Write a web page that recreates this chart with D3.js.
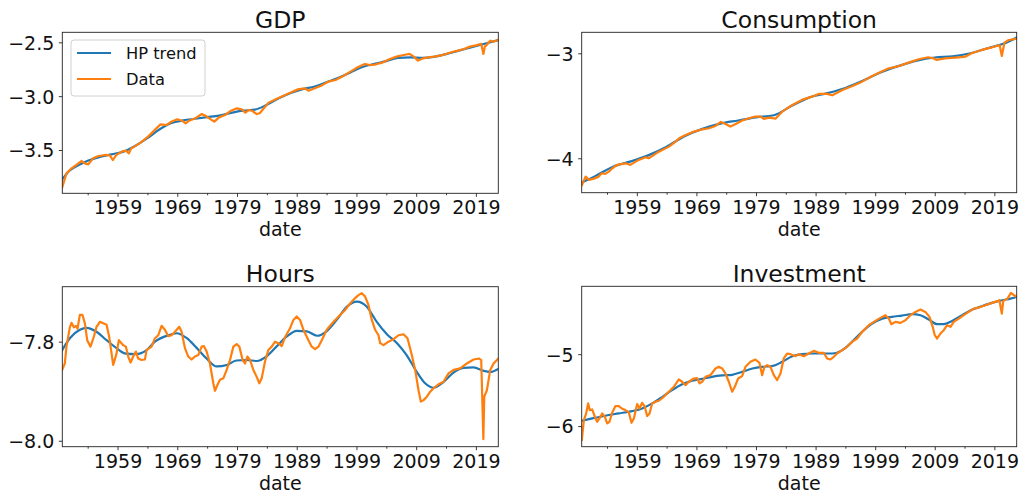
<!DOCTYPE html>
<html>
<head>
<meta charset="utf-8">
<script src="https://cdn.jsdelivr.net/npm/d3@7"></script>
<style>
  html, body { margin: 0; padding: 0; background: #fff; }
  svg { display: block; font-family: "DejaVu Sans", sans-serif; }
</style>
</head>
<body>
<svg id="chart" width="1023" height="495"></svg>
<script>
// ---- Series: [year, log level] ----
const gdpData = [
  [1949.75,-3.845],[1950.45,-3.717],[1951.3,-3.670],[1952.1,-3.639],[1953.0,-3.602],[1953.5,-3.624],
  [1954.1,-3.633],[1954.9,-3.577],[1955.8,-3.556],[1956.9,-3.546],[1957.7,-3.550],[1958.2,-3.593],
  [1958.8,-3.546],[1959.7,-3.515],[1960.4,-3.506],[1960.9,-3.531],[1961.3,-3.485],[1962.7,-3.438],
  [1964.1,-3.376],[1965.5,-3.299],[1966.2,-3.262],[1967.2,-3.268],[1968.0,-3.237],[1969.0,-3.215],
  [1969.8,-3.228],[1970.4,-3.252],[1971.0,-3.228],[1972.0,-3.206],[1973.1,-3.166],[1973.8,-3.184],
  [1974.6,-3.215],[1975.2,-3.237],[1976.0,-3.197],[1977.0,-3.175],[1978.0,-3.135],[1979.0,-3.113],
  [1979.8,-3.122],[1980.4,-3.153],[1981.0,-3.128],[1981.6,-3.138],[1982.3,-3.166],[1982.8,-3.159],
  [1983.5,-3.113],[1984.3,-3.060],[1985.5,-3.029],[1986.7,-2.998],[1988.0,-2.967],[1989.2,-2.937],
  [1990.3,-2.927],[1991.0,-2.949],[1992.0,-2.927],[1993.0,-2.906],[1994.3,-2.865],[1995.5,-2.850],
  [1996.8,-2.813],[1998.0,-2.772],[1999.2,-2.732],[2000.4,-2.701],[2001.3,-2.711],[2002.3,-2.704],
  [2003.3,-2.689],[2004.5,-2.658],[2005.7,-2.633],[2006.9,-2.618],[2007.9,-2.608],[2008.6,-2.633],
  [2009.3,-2.670],[2010.0,-2.652],[2011.0,-2.639],[2012.0,-2.633],[2013.0,-2.624],[2014.0,-2.608],
  [2015.0,-2.590],[2016.0,-2.577],[2017.0,-2.562],[2018.0,-2.540],[2019.0,-2.528],[2019.9,-2.515],
  [2020.25,-2.608],[2020.5,-2.540],[2020.8,-2.525],[2021.4,-2.485],[2021.9,-2.494],[2022.3,-2.485],
  [2022.75,-2.478]
];
const gdpTrend = [
  [1949.75,-3.77],[1951,-3.69],[1952.5,-3.64],[1954,-3.60],[1956,-3.565],[1958,-3.54],[1960,-3.515],
  [1962,-3.46],[1964,-3.39],[1966,-3.31],[1968,-3.25],[1970,-3.225],[1972,-3.21],[1974,-3.195],
  [1976,-3.18],[1978,-3.155],[1980,-3.135],[1982,-3.125],[1984,-3.08],[1986,-3.02],[1988,-2.97],
  [1990,-2.935],[1992,-2.91],[1994,-2.87],[1996,-2.83],[1998,-2.78],[2000,-2.73],[2002,-2.70],
  [2004,-2.675],[2006,-2.645],[2008,-2.64],[2010,-2.645],[2012,-2.635],[2014,-2.61],[2016,-2.58],
  [2018,-2.55],[2020,-2.52],[2022.75,-2.48]
];

const consData = [
  [1949.8,-4.254],[1950.4,-4.175],[1951.0,-4.206],[1951.8,-4.194],[1952.6,-4.175],[1953.1,-4.143],
  [1953.7,-4.149],[1954.3,-4.127],[1954.9,-4.095],[1955.7,-4.063],[1957.1,-4.048],[1957.9,-4.063],
  [1959.1,-4.022],[1960.5,-3.990],[1961.0,-4.000],[1962.7,-3.937],[1964.4,-3.889],[1965.5,-3.841],
  [1966.1,-3.810],[1967.2,-3.778],[1968.6,-3.746],[1970.0,-3.724],[1971.1,-3.714],[1972.2,-3.692],
  [1973.1,-3.654],[1973.9,-3.673],[1974.7,-3.698],[1975.6,-3.673],[1976.7,-3.641],[1977.8,-3.619],
  [1978.9,-3.603],[1979.8,-3.603],[1980.3,-3.625],[1981.2,-3.613],[1982.3,-3.622],[1983.4,-3.556],
  [1985.1,-3.492],[1986.7,-3.444],[1988.4,-3.413],[1989.5,-3.387],[1990.9,-3.387],[1991.8,-3.400],
  [1993.5,-3.349],[1995.2,-3.311],[1996.8,-3.270],[1998.5,-3.216],[2000.0,-3.175],[2001.3,-3.143],
  [2003.0,-3.121],[2004.6,-3.089],[2006.3,-3.057],[2007.9,-3.038],[2008.8,-3.048],[2009.3,-3.063],
  [2010.7,-3.048],[2013.0,-3.038],[2014.1,-3.032],[2015.2,-3.000],[2016.9,-2.968],[2018.6,-2.943],
  [2019.4,-2.930],[2019.9,-2.924],[2020.25,-3.025],[2020.7,-2.898],[2021.4,-2.873],[2022.75,-2.860]
];
const consTrend = [
  [1949.8,-4.23],[1952,-4.17],[1955,-4.08],[1958,-4.03],[1961,-3.97],[1964,-3.89],[1967,-3.79],
  [1970,-3.72],[1973,-3.67],[1976,-3.64],[1979,-3.61],[1982,-3.59],[1985,-3.50],[1988,-3.42],
  [1991,-3.38],[1994,-3.33],[1997,-3.26],[2000,-3.18],[2003,-3.12],[2006,-3.07],[2009,-3.04],
  [2012,-3.03],[2015,-3.00],[2018,-2.95],[2020.5,-2.91],[2022.75,-2.85]
];

const hoursData = [
  [1949.73,-7.857],[1950.17,-7.844],[1950.45,-7.810],[1951.01,-7.771],[1951.29,-7.762],[1951.68,-7.771],
  [1952.02,-7.768],[1952.30,-7.774],[1952.69,-7.746],[1953.13,-7.746],[1953.53,-7.763],[1953.92,-7.797],
  [1954.47,-7.810],[1955.03,-7.790],[1955.48,-7.770],[1956.04,-7.760],[1956.60,-7.763],[1957.16,-7.766],
  [1957.60,-7.790],[1958.27,-7.847],[1958.83,-7.824],[1959.22,-7.797],[1959.95,-7.807],[1960.40,-7.810],
  [1960.79,-7.830],[1961.18,-7.842],[1961.63,-7.830],[1962.07,-7.820],[1962.46,-7.834],[1963.02,-7.837],
  [1963.58,-7.836],[1963.86,-7.817],[1964.70,-7.810],[1965.26,-7.793],[1965.82,-7.787],[1966.37,-7.768],
  [1966.93,-7.776],[1967.49,-7.789],[1968.05,-7.787],[1968.61,-7.780],[1969.34,-7.770],[1969.73,-7.780],
  [1970.28,-7.813],[1970.84,-7.830],[1971.40,-7.836],[1971.96,-7.830],[1972.52,-7.827],[1973.08,-7.810],
  [1973.47,-7.809],[1973.92,-7.820],[1974.47,-7.844],[1975.03,-7.884],[1975.31,-7.899],[1975.70,-7.888],
  [1976.15,-7.877],[1976.71,-7.874],[1977.27,-7.857],[1977.83,-7.837],[1978.39,-7.810],[1978.94,-7.805],
  [1979.39,-7.810],[1979.95,-7.837],[1980.34,-7.844],[1980.73,-7.830],[1981.18,-7.837],[1981.74,-7.857],
  [1982.30,-7.871],[1982.74,-7.884],[1983.13,-7.874],[1983.69,-7.840],[1984.25,-7.817],[1984.81,-7.810],
  [1985.37,-7.800],[1985.93,-7.803],[1986.49,-7.809],[1987.04,-7.791],[1987.88,-7.773],[1988.44,-7.756],
  [1989.00,-7.749],[1989.56,-7.756],[1990.12,-7.776],[1990.96,-7.797],[1991.51,-7.810],[1992.07,-7.815],
  [1992.63,-7.810],[1993.19,-7.797],[1994.03,-7.776],[1994.59,-7.768],[1995.15,-7.760],[1995.70,-7.753],
  [1996.26,-7.746],[1997.10,-7.736],[1997.94,-7.723],[1998.78,-7.712],[1999.34,-7.706],[1999.89,-7.702],
  [2000.45,-7.709],[2001.01,-7.726],[2001.57,-7.756],[2002.13,-7.776],[2002.69,-7.787],[2002.97,-7.803],
  [2003.53,-7.807],[2004.37,-7.800],[2005.20,-7.795],[2006.04,-7.787],[2006.88,-7.785],[2007.55,-7.793],
  [2008.27,-7.827],[2008.83,-7.857],[2009.39,-7.898],[2009.78,-7.921],[2010.23,-7.918],[2010.79,-7.911],
  [2011.35,-7.901],[2011.91,-7.894],[2012.74,-7.886],[2013.58,-7.881],[2014.42,-7.864],[2015.26,-7.857],
  [2016.37,-7.854],[2017.49,-7.844],[2018.61,-7.836],[2019.56,-7.834],[2019.89,-7.837],[2020.25,-7.997],
  [2020.40,-7.911],[2020.84,-7.898],[2021.40,-7.857],[2021.96,-7.844],[2022.75,-7.834]
];
const hoursTrend = [
  [1949.73,-7.817],[1951.01,-7.793],[1952.69,-7.776],[1953.8,-7.772],[1955.48,-7.780],[1957.16,-7.797],
  [1958.83,-7.813],[1960.4,-7.824],[1962.07,-7.825],[1963.86,-7.817],[1965.26,-7.800],[1967.49,-7.787],
  [1968.9,-7.783],[1970.6,-7.793],[1972.2,-7.812],[1973.9,-7.834],[1975.6,-7.850],[1977.3,-7.847],
  [1978.9,-7.838],[1980.6,-7.837],[1982.3,-7.839],[1984.0,-7.829],[1985.6,-7.810],[1987.3,-7.790],
  [1989.0,-7.778],[1990.7,-7.779],[1992.4,-7.788],[1994.0,-7.779],[1995.7,-7.756],[1997.4,-7.729],
  [1999.1,-7.719],[2000.7,-7.729],[2002.4,-7.760],[2004.1,-7.785],[2005.8,-7.803],[2007.4,-7.827],
  [2009.1,-7.861],[2010.5,-7.884],[2011.9,-7.893],[2013.6,-7.881],[2015.3,-7.862],[2016.9,-7.853],
  [2018.6,-7.852],[2020.3,-7.859],[2021.4,-7.861],[2022.75,-7.855]
];

const invData = [
  [1949.77,-6.194],[1950.11,-5.917],[1950.50,-5.824],[1950.83,-5.685],[1951.11,-5.778],[1951.51,-5.769],
  [1951.95,-5.870],[1952.34,-5.940],[1952.74,-5.894],[1953.18,-5.824],[1953.63,-5.870],[1954.02,-5.963],
  [1954.41,-5.940],[1954.86,-5.815],[1955.42,-5.722],[1955.98,-5.722],[1956.54,-5.759],[1957.10,-5.778],
  [1957.66,-5.810],[1958.11,-5.954],[1958.50,-5.894],[1959.06,-5.694],[1959.45,-5.755],[1959.89,-5.676],
  [1960.34,-5.731],[1960.73,-5.861],[1961.13,-5.824],[1961.57,-5.685],[1962.13,-5.662],[1962.69,-5.648],
  [1963.53,-5.593],[1964.37,-5.523],[1965.21,-5.454],[1966.05,-5.352],[1966.61,-5.384],[1967.17,-5.431],
  [1967.72,-5.384],[1968.56,-5.338],[1969.12,-5.333],[1969.51,-5.407],[1969.96,-5.384],[1970.52,-5.315],
  [1971.36,-5.292],[1972.20,-5.199],[1972.76,-5.176],[1973.32,-5.199],[1973.88,-5.269],[1974.44,-5.384],
  [1975.00,-5.523],[1975.44,-5.454],[1976.00,-5.338],[1976.67,-5.306],[1977.23,-5.176],[1978.07,-5.106],
  [1978.91,-5.074],[1979.58,-5.120],[1980.03,-5.292],[1980.42,-5.176],[1980.87,-5.153],[1981.43,-5.176],
  [1981.99,-5.292],[1982.55,-5.361],[1983.11,-5.269],[1983.66,-5.060],[1984.22,-4.991],[1984.78,-5.000],
  [1985.62,-5.028],[1986.18,-5.000],[1987.02,-5.028],[1987.86,-4.991],[1988.70,-4.954],[1989.54,-4.981],
  [1990.38,-4.981],[1990.93,-5.060],[1991.49,-5.074],[1992.05,-5.037],[1992.61,-4.991],[1993.45,-4.944],
  [1994.29,-4.898],[1995.13,-4.829],[1995.97,-4.782],[1996.81,-4.690],[1997.93,-4.597],[1999.04,-4.537],
  [1999.88,-4.495],[2000.72,-4.458],[2001.28,-4.505],[2001.73,-4.583],[2002.40,-4.551],[2003.24,-4.565],
  [2004.08,-4.528],[2004.92,-4.458],[2005.76,-4.412],[2006.60,-4.380],[2007.43,-4.412],[2008.11,-4.481],
  [2008.66,-4.620],[2009.00,-4.736],[2009.39,-4.782],[2009.95,-4.713],[2010.51,-4.667],[2011.07,-4.597],
  [2011.63,-4.620],[2012.19,-4.551],[2013.03,-4.505],[2013.87,-4.458],[2014.70,-4.412],[2015.54,-4.366],
  [2016.38,-4.352],[2017.50,-4.319],[2018.62,-4.287],[2019.62,-4.259],[2019.85,-4.250],[2020.25,-4.435],
  [2020.50,-4.259],[2021.21,-4.227],[2021.78,-4.148],[2022.33,-4.181],[2022.75,-4.204]
];
const invTrend = [
  [1949.77,-5.926],[1951.5,-5.894],[1953.7,-5.856],[1956.0,-5.824],[1958.2,-5.792],[1959.9,-5.755],
  [1961.6,-5.685],[1963.3,-5.593],[1964.9,-5.500],[1966.6,-5.417],[1968.3,-5.370],[1970.0,-5.343],
  [1971.6,-5.315],[1973.3,-5.296],[1975.0,-5.287],[1976.7,-5.245],[1978.4,-5.199],[1980.0,-5.176],
  [1981.7,-5.167],[1983.4,-5.106],[1985.1,-5.028],[1986.7,-5.000],[1988.4,-4.991],[1990.1,-4.991],
  [1991.8,-4.991],[1993.5,-4.944],[1995.1,-4.829],[1996.8,-4.690],[1998.5,-4.574],[2000.2,-4.505],
  [2001.8,-4.481],[2003.5,-4.463],[2005.2,-4.444],[2006.6,-4.458],[2008.0,-4.519],[2009.4,-4.583],
  [2010.5,-4.583],[2011.9,-4.537],[2013.6,-4.458],[2015.3,-4.380],[2016.9,-4.333],[2018.6,-4.287],
  [2020.3,-4.250],[2021.7,-4.227],[2022.75,-4.204]
];

// ---- Axis ticks ----
const labeledYears = [1959, 1969, 1979, 1989, 1999, 2009, 2019];
const minorYears = [1954, 1964, 1974, 1984, 1994, 2004, 2014];
const gdpTicks = [-3.5, -3.0, -2.5];
const consTicks = [-4, -3];
const hoursTicks = [-8.0, -7.8];
const invTicks = [-6, -5];
const dateDomain = [1949.75, 2022.75];

// ---- Panel layout ----
const panels = [
  { title: "GDP", data: gdpData, trend: gdpTrend, ticks: gdpTicks, fmt: ".1f",
    yDomain: [-3.902, -2.407], box: [62.3, 32.3, 498.3, 193.3], legend: true },
  { title: "Consumption", data: consData, trend: consTrend, ticks: consTicks, fmt: "d",
    yDomain: [-4.328, -2.80], box: [581.7, 32.3, 1016.7, 192.7] },
  { title: "Hours", data: hoursData, trend: hoursTrend, ticks: hoursTicks, fmt: ".1f",
    yDomain: [-8.012, -7.689], box: [62.3, 286.7, 498.3, 446.7] },
  { title: "Investment", data: invData, trend: invTrend, ticks: invTicks, fmt: "d",
    yDomain: [-6.287, -4.056], box: [581.7, 286.3, 1016.7, 446.7] }
];

const BLUE = "#1f77b4", ORANGE = "#ff7f0e";
const svg = d3.select("#chart");
const defs = svg.append("defs");

panels.forEach((p, i) => {
  const [x0, y0, x1, y1] = p.box;
  const x = d3.scaleLinear().domain(dateDomain).range([x0, x1]);
  const y = d3.scaleLinear().domain(p.yDomain).range([y1, y0]);
  const g = svg.append("g");

  defs.append("clipPath").attr("id", "clip" + i)
    .append("rect").attr("x", x0).attr("y", y0).attr("width", x1 - x0).attr("height", y1 - y0);

  const plot = g.append("g").attr("clip-path", `url(#clip${i})`);
  const trendLine = d3.line().x(d => x(d[0])).y(d => y(d[1])).curve(d3.curveMonotoneX);
  const dataLine = d3.line().x(d => x(d[0])).y(d => y(d[1]));

  plot.append("path").datum(p.trend).attr("d", trendLine)
    .attr("fill", "none").attr("stroke", BLUE).attr("stroke-width", 2.2)
    .attr("stroke-linejoin", "round").attr("stroke-linecap", "square");
  plot.append("path").datum(p.data).attr("d", dataLine)
    .attr("fill", "none").attr("stroke", ORANGE).attr("stroke-width", 2.2)
    .attr("stroke-linejoin", "round").attr("stroke-linecap", "square");

  // frame
  g.append("rect").attr("x", x0).attr("y", y0).attr("width", x1 - x0).attr("height", y1 - y0)
    .attr("fill", "none").attr("stroke", "#222").attr("stroke-width", 0.9);

  // x axis: major ticks with labels, minor ticks without
  const xMajor = d3.axisBottom(x).tickValues(labeledYears).tickSize(3.5).tickPadding(4)
    .tickFormat(d3.format("d"));
  const xMinor = d3.axisBottom(x).tickValues(minorYears).tickSize(2).tickFormat("");
  [xMajor, xMinor].forEach(ax => {
    const a = g.append("g").attr("transform", `translate(0,${y1})`).call(ax);
    a.select(".domain").remove();
    a.selectAll("line").attr("stroke", "#222").attr("stroke-width", 0.9);
    a.selectAll("text").attr("font-family", "DejaVu Sans").attr("font-size", 19)
      .attr("fill", "#111").attr("dy", null).attr("y", 21);
  });

  // y axis
  const yAx = g.append("g").attr("transform", `translate(${x0},0)`)
    .call(d3.axisLeft(y).tickValues(p.ticks).tickSize(3.5).tickPadding(4.5)
      .tickFormat(d3.format(p.fmt)));
  yAx.select(".domain").remove();
  yAx.selectAll("line").attr("stroke", "#222").attr("stroke-width", 0.9);
  yAx.selectAll("text").attr("font-family", "DejaVu Sans").attr("font-size", 19)
    .attr("fill", "#111").attr("dy", "0.36em");

  // title and axis label
  g.append("text").attr("x", (x0 + x1) / 2).attr("y", y0 - 4.5)
    .attr("text-anchor", "middle").attr("font-size", 23.5).attr("fill", "#111").text(p.title);
  g.append("text").attr("x", (x0 + x1) / 2).attr("y", y1 + 43)
    .attr("text-anchor", "middle").attr("font-size", 19).attr("fill", "#111").text("date");

  if (p.legend) {
    const lg = g.append("g");
    lg.append("rect").attr("x", 71).attr("y", 40).attr("width", 134).attr("height", 56)
      .attr("rx", 3).attr("fill", "#fff").attr("fill-opacity", 0.8)
      .attr("stroke", "#d0d0d0").attr("stroke-width", 1);
    const items = [["HP trend", BLUE, 53], ["Data", ORANGE, 79]];
    items.forEach(([label, color, ly]) => {
      lg.append("line").attr("x1", 77).attr("x2", 111).attr("y1", ly).attr("y2", ly)
        .attr("stroke", color).attr("stroke-width", 2.2);
      lg.append("text").attr("x", 126).attr("y", ly + 6).attr("font-size", 16.3)
        .attr("fill", "#111").text(label);
    });
  }
});
</script>
</body>
</html>
